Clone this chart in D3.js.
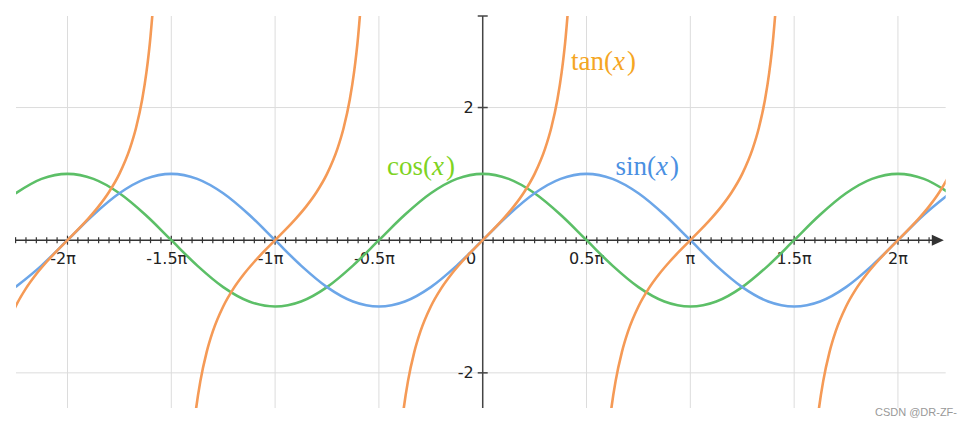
<!DOCTYPE html>
<html>
<head>
<meta charset="utf-8">
<script src="https://cdn.jsdelivr.net/npm/d3@7"></script>
<style>
  body { margin: 0; background: #fff; }
  svg { display: block; }
</style>
</head>
<body>
<div id="chart"></div>
<script>
// x positions are in units of pi
const sampleX = [-2.25, -2.125, -2, -1.875, -1.75, -1.625, -1.5, -1.375, -1.25, -1.125,
  -1, -0.875, -0.75, -0.625, -0.5, -0.375, -0.25, -0.125, 0, 0.125, 0.25, 0.375, 0.5,
  0.625, 0.75, 0.875, 1, 1.125, 1.25, 1.375, 1.5, 1.625, 1.75, 1.875, 2, 2.125, 2.25];
const sinValues = [-0.707, -0.383, 0, 0.383, 0.707, 0.924, 1, 0.924, 0.707, 0.383,
  0, -0.383, -0.707, -0.924, -1, -0.924, -0.707, -0.383, 0, 0.383, 0.707, 0.924, 1,
  0.924, 0.707, 0.383, 0, -0.383, -0.707, -0.924, -1, -0.924, -0.707, -0.383, 0, 0.383, 0.707];
const cosValues = [0.707, 0.924, 1, 0.924, 0.707, 0.383, 0, -0.383, -0.707, -0.924,
  -1, -0.924, -0.707, -0.383, 0, 0.383, 0.707, 0.924, 1, 0.924, 0.707, 0.383, 0,
  -0.383, -0.707, -0.924, -1, -0.924, -0.707, -0.383, 0, 0.383, 0.707, 0.924, 1, 0.924, 0.707];

// one branch of tan (offset from branch centre, in pi) and the branch centres
const tanOffsets = [-0.44, -0.42, -0.4, -0.38, -0.36, -0.33, -0.3, -0.25, -0.2, -0.15, -0.1, -0.05,
  0, 0.05, 0.1, 0.15, 0.2, 0.25, 0.3, 0.33, 0.36, 0.38, 0.4, 0.42, 0.44];
const tanValues = [-5.242, -3.895, -3.078, -2.526, -2.125, -1.691, -1.376, -1, -0.727, -0.51, -0.325, -0.158,
  0, 0.158, 0.325, 0.51, 0.727, 1, 1.376, 1.691, 2.125, 2.526, 3.078, 3.895, 5.242];
const tanCentres = [-2, -1, 0, 1, 2];

const xTickValues = [-2, -1.5, -1, -0.5, 0, 0.5, 1, 1.5, 2];
const xTickLabels = ['-2π', '-1.5π', '-1π', '-0.5π', '0', '0.5π', 'π', '1.5π', '2π'];
const yTickValues = [-2, 2];
const yTickLabels = ['-2', '2'];

const width = 970, height = 427;
const margin = { top: 16, right: 24.3, bottom: 19, left: 16 };

const svg = d3.select('#chart').append('svg')
  .attr('width', width)
  .attr('height', height);

const x = d3.scaleLinear()
  .domain([-2.248, 2.23])
  .range([margin.left, width - margin.right]);
const y = d3.scaleLinear()
  .domain([-2.53, 3.38])
  .range([height - margin.bottom, margin.top]);

const x0 = x(0), y0 = y(0);

svg.append('defs').append('clipPath').attr('id', 'plot-clip')
  .append('rect')
  .attr('x', margin.left)
  .attr('y', margin.top)
  .attr('width', width - margin.left - margin.right)
  .attr('height', height - margin.top - margin.bottom);

// grid
const grid = svg.append('g').attr('stroke', '#dcdcdc').attr('stroke-width', 1);
grid.selectAll('.vgrid')
  .data(xTickValues.filter(d => d !== 0))
  .enter().append('line')
  .attr('x1', d => x(d)).attr('x2', d => x(d))
  .attr('y1', margin.top).attr('y2', height - margin.bottom);
grid.selectAll('.hgrid')
  .data(yTickValues)
  .enter().append('line')
  .attr('x1', margin.left).attr('x2', width - margin.right)
  .attr('y1', d => y(d)).attr('y2', d => y(d));

// x axis line with arrow
const axisColor = '#333';
svg.append('line')
  .attr('x1', margin.left).attr('x2', x(2.2))
  .attr('y1', y0).attr('y2', y0)
  .attr('stroke', axisColor).attr('stroke-width', 1.5);
const tip = x(2.221);
svg.append('path')
  .attr('d', `M${tip},${y0} L${tip - 12},${y0 - 5.5} L${tip - 12},${y0 + 5.5} Z`)
  .attr('fill', axisColor);

// small ticks every 0.05 pi, larger on each half pi
const minorTicks = d3.range(-45, 44).map(i => i / 20);
svg.append('g').selectAll('line')
  .data(minorTicks)
  .enter().append('line')
  .attr('x1', d => x(d)).attr('x2', d => x(d))
  .attr('y1', (d, i) => y0 - ((i + 5) % 10 === 0 ? 4.5 : 3))
  .attr('y2', (d, i) => y0 + ((i + 5) % 10 === 0 ? 4.5 : 3))
  .attr('stroke', axisColor).attr('stroke-width', 1.2);

// y axis
svg.append('line')
  .attr('x1', x0).attr('x2', x0)
  .attr('y1', margin.top).attr('y2', height - margin.bottom)
  .attr('stroke', '#444').attr('stroke-width', 1.5);
svg.append('g').selectAll('line')
  .data(yTickValues.concat([y.domain()[1]]))
  .enter().append('line')
  .attr('x1', x0 - 5).attr('x2', x0 + 5)
  .attr('y1', d => y(d)).attr('y2', d => y(d))
  .attr('stroke', '#444').attr('stroke-width', 1.5);

// tick labels
const labelFont = '"DejaVu Sans", Verdana, sans-serif';
svg.append('g').selectAll('text')
  .data(xTickValues)
  .enter().append('text')
  .attr('x', d => d === 0 ? x0 - 11.5 : x(d) + (d < 0 ? -4.5 : 0))
  .attr('y', y0 + 23.5)
  .attr('text-anchor', 'middle')
  .attr('font-family', labelFont)
  .attr('font-size', '16px')
  .attr('fill', '#222')
  .text((d, i) => xTickLabels[i]);
svg.append('g').selectAll('text')
  .data(yTickValues)
  .enter().append('text')
  .attr('x', x0 - 9)
  .attr('y', d => y(d))
  .attr('dy', '0.35em')
  .attr('text-anchor', 'end')
  .attr('font-family', labelFont)
  .attr('font-size', '16px')
  .attr('fill', '#222')
  .text((d, i) => yTickLabels[i]);

// curves
const line = d3.line()
  .x(d => x(d[0]))
  .y(d => y(d[1]))
  .curve(d3.curveMonotoneX);

const plot = svg.append('g').attr('clip-path', 'url(#plot-clip)')
  .attr('fill', 'none').attr('stroke-width', 2.6);

plot.append('path')
  .attr('d', line(sampleX.map((v, i) => [v, cosValues[i]])))
  .attr('stroke', '#5cbf67');
plot.append('path')
  .attr('d', line(sampleX.map((v, i) => [v, sinValues[i]])))
  .attr('stroke', '#6ca6e8');
plot.selectAll('.tan')
  .data(tanCentres)
  .enter().append('path')
  .attr('d', c => line(tanOffsets.map((o, i) => [c + o, tanValues[i]])))
  .attr('stroke', '#f59a56');

// function labels
const mathFont = '"Liberation Serif", "Times New Roman", serif';
function fnLabel(name, xPos, yPos, color) {
  const t = svg.append('text')
    .attr('x', xPos).attr('y', yPos)
    .attr('font-family', mathFont)
    .attr('font-size', '27px')
    .attr('fill', color);
  t.append('tspan').text(name + '(');
  t.append('tspan').attr('font-style', 'italic').text('x');
  t.append('tspan').attr('dx', 2).text(')');
}
fnLabel('tan', x(0.425), 70, '#f5a623');
fnLabel('cos', x(-0.461), 175, '#7ed321');
fnLabel('sin', x(0.64), 175, '#4a90e2');

// watermark
svg.append('text')
  .attr('x', 957).attr('y', 416)
  .attr('text-anchor', 'end')
  .attr('font-family', '"Liberation Sans", Arial, sans-serif')
  .attr('font-size', '11px')
  .attr('fill', '#999')
  .text('CSDN @DR-ZF-');
</script>
</body>
</html>
